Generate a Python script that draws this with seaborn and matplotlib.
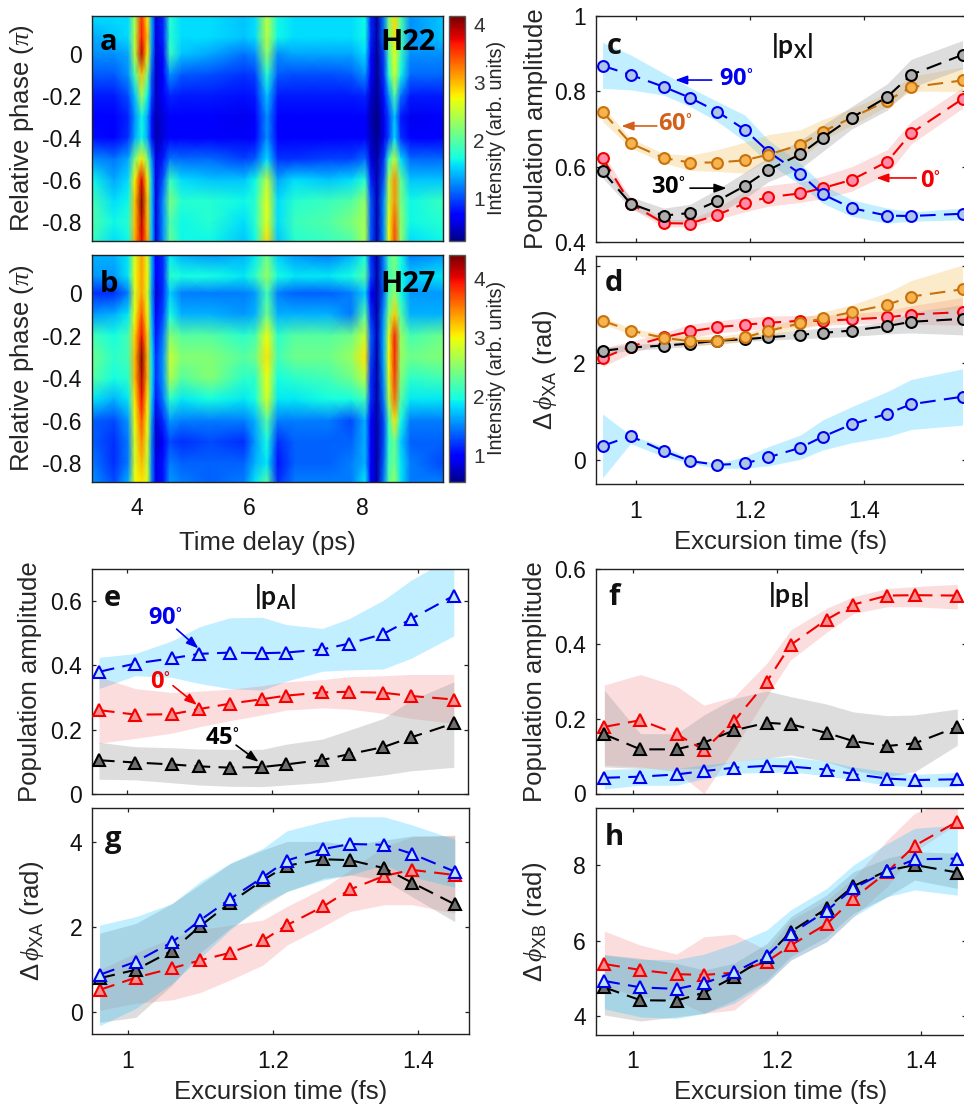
import numpy as np
import matplotlib
matplotlib.use("Agg")
import matplotlib.pyplot as plt
import seaborn as sns

W, H = 964, 1105

# ---------- heat maps ----------
delay = [3.2, 3.6, 3.85, 3.97, 4.09, 4.19, 4.27, 4.34, 4.47, 4.59, 4.8, 5.3, 5.9, 6.1,
         6.31, 6.5, 6.8, 7.4, 7.8, 8.05, 8.15, 8.26, 8.38, 8.47, 8.57, 8.68, 8.85, 9.42]
phase = [.18, .08, 0, -.1, -.2, -.3, -.4, -.5, -.6, -.7, -.8, -.89]
h22 = [
 [1.6,1.6,1.6,2.4,3.6,2.8,1.4,.6,.9,1.8,1.6,1.6,1.5,1.6,2.5,1.7,1.6,1.6,1.6,1.7,.9,.4,1.2,2.2,2.9,2.0,1.3,1.5],
 [1.4,1.5,1.6,2.5,3.7,3.0,1.4,.6,.9,1.8,1.6,1.6,1.5,1.6,2.5,1.7,1.6,1.6,1.6,1.7,.9,.4,1.2,2.2,2.9,2.0,1.3,1.5],
 [1.3,1.3,1.4,2.5,3.9,2.8,1.3,.55,.8,1.9,1.5,1.4,1.2,1.3,2.3,1.3,1.4,1.4,1.4,1.6,.8,.35,1.0,2.0,2.7,1.9,1.3,1.3],
 [1.1,1.1,1.3,2.0,3.0,2.2,1.1,.5,.75,1.3,1.1,1.05,.95,1.0,1.8,1.1,1.05,1.05,1.1,1.3,.7,.35,.95,1.8,2.6,1.7,1.15,1.15],
 [.85,.85,1.05,1.5,2.4,1.7,1.0,.5,.7,.9,.85,.85,.8,.85,1.5,.85,.85,.85,.85,.9,.55,.35,.8,1.3,2.0,1.2,.85,.85],
 [.75,.75,.9,1.3,1.7,1.4,.8,.45,.6,.75,.7,.72,.65,.7,1.3,.7,.7,.7,.72,.72,.45,.3,.65,1.0,1.5,.85,.65,.7],
 [.8,.75,.95,1.4,1.7,1.4,.8,.45,.6,.75,.72,.75,.68,.72,1.3,.7,.7,.72,.7,.75,.5,.32,.65,1.0,1.6,.95,.72,.75],
 [1.3,1.2,1.4,2.2,2.8,2.2,1.3,.6,.85,1.2,1.15,1.15,1.0,1.1,1.6,.95,.95,1.0,1.0,1.15,.6,.4,.95,1.9,2.5,1.6,1.15,1.15],
 [1.7,1.4,1.6,2.8,3.8,2.8,1.5,.6,1.1,1.9,1.6,1.5,1.5,1.7,2.5,1.4,1.6,1.5,1.6,1.8,.9,.45,1.1,2.4,3.2,2.1,1.5,1.5],
 [1.95,1.6,1.7,3.0,4.1,3.0,1.5,.6,1.3,2.2,1.8,1.8,1.7,1.8,2.7,1.6,1.8,1.9,2.0,2.3,1.1,.45,1.3,2.5,3.2,2.2,1.7,1.9],
 [2.0,1.7,1.8,3.0,3.9,3.0,1.5,.6,1.3,2.0,1.7,1.8,1.6,1.8,2.7,1.6,1.9,2.0,2.2,2.4,1.1,.45,1.3,2.7,3.4,2.3,1.7,1.8],
 [1.9,1.6,1.7,3.1,3.8,3.1,1.5,.6,1.3,2.1,1.7,1.7,1.5,1.7,2.9,1.5,1.8,1.9,2.0,2.4,1.1,.45,1.3,2.7,3.5,2.3,1.6,1.7],
]
h27 = [
 [1.7,1.7,1.9,2.9,3.4,2.9,1.7,1.0,1.2,1.9,1.7,1.6,1.7,1.9,2.4,1.8,1.6,1.5,1.7,2.0,1.2,.7,1.5,2.2,2.5,2.0,1.5,1.6],
 [1.6,1.6,1.9,3.0,3.4,3.0,1.7,1.0,1.2,2.1,2.0,2.0,1.9,2.1,2.6,2.0,1.9,1.9,2.0,2.3,1.3,.7,1.5,2.2,2.4,2.0,1.8,1.9],
 [1.2,1.2,1.5,2.9,3.4,2.9,1.6,.85,1.2,1.8,1.5,1.5,1.5,1.6,2.2,1.5,1.4,1.4,1.5,1.8,1.0,.7,1.4,2.2,2.6,2.0,1.6,1.6],
 [1.6,1.7,1.9,3.0,3.7,3.0,1.7,1.0,1.3,2.0,1.7,1.7,1.6,1.7,2.4,1.7,1.7,1.7,1.5,2.3,1.2,.7,1.6,2.5,3.2,2.3,1.7,1.7],
 [2.2,2.0,2.2,3.2,4.0,3.2,1.8,1.1,1.5,2.5,2.3,2.3,2.1,2.2,3.0,2.1,2.3,2.3,2.4,2.8,1.4,.75,1.7,2.9,3.9,2.6,2.2,2.4],
 [2.4,2.1,2.2,3.3,4.35,3.3,1.9,1.2,1.6,2.8,2.5,2.5,2.3,2.4,3.1,2.2,2.4,2.4,2.6,3.1,1.3,.7,1.7,3.0,3.9,2.6,2.4,2.5],
 [2.3,2.0,2.1,3.3,4.2,3.3,1.9,1.2,1.6,2.7,2.3,2.5,2.1,2.1,3.0,2.0,2.1,2.2,2.4,2.75,1.2,.7,1.6,2.9,3.8,2.5,2.1,2.2],
 [1.9,1.7,1.9,3.1,4.0,3.1,1.8,1.1,1.5,2.1,1.9,2.0,1.9,2.0,2.9,1.9,1.9,2.0,2.0,2.2,1.2,.7,1.5,2.7,3.6,2.3,1.9,1.9],
 [1.4,1.3,1.6,3.0,3.7,3.0,1.6,.85,1.2,1.6,1.5,1.5,1.5,1.7,2.3,1.5,1.5,1.5,1.3,1.7,1.0,.7,1.3,2.2,3.1,2.0,1.5,1.5],
 [1.4,1.2,1.5,2.9,3.5,2.9,1.5,.8,1.0,1.3,1.2,1.3,1.2,1.6,2.0,1.2,1.4,1.4,1.4,1.7,1.0,.7,1.3,2.1,2.4,1.8,1.4,1.4],
 [1.5,1.2,1.5,2.9,3.3,2.8,1.5,.9,1.1,1.5,1.4,1.4,1.4,1.7,1.9,1.1,1.4,1.4,1.5,1.7,1.0,.7,1.4,2.2,2.4,1.9,1.5,1.3],
 [1.6,1.3,1.7,3.0,3.1,2.9,1.5,.9,1.1,1.6,1.5,1.4,1.5,1.9,2.3,1.2,1.5,1.5,1.5,1.9,1.0,.7,1.5,2.3,2.6,1.9,1.5,1.5],
]

# ---------- panels c, d ----------
tx = [.942, .991, 1.049, 1.095, 1.143, 1.191, 1.232, 1.288, 1.327, 1.378, 1.440, 1.482, 1.572]
c_blue = [.868,.844,.812,.783,.746,.698,.640,.581,.527,.490,.470,.469,.475]
c_blue_hi = [.93,.897,.848,.81,.773,.737,.671,.609,.552,.512,.49,.48,.49]
c_blue_lo = [.808,.804,.79,.76,.72,.667,.61,.552,.503,.468,.45,.455,.459]
c_orange = [.746,.662,.623,.611,.611,.617,.632,.658,.693,.73,.775,.811,.829]
c_orange_hi = [.76,.675,.635,.63,.645,.665,.685,.698,.725,.755,.795,.84,.865]
c_orange_lo = [.72,.65,.61,.59,.587,.583,.618,.62,.67,.71,.76,.80,.80]
c_black = [.588,.502,.470,.477,.509,.549,.591,.633,.677,.73,.785,.844,.897]
c_black_hi = [.60,.52,.49,.50,.54,.585,.625,.67,.71,.76,.82,.885,.935]
c_black_lo = [.57,.49,.45,.45,.475,.515,.56,.595,.64,.70,.75,.81,.86]
c_red = [.623,.502,.45,.449,.472,.503,.519,.529,.543,.565,.613,.689,.78]
c_red_hi = [.64,.515,.46,.46,.49,.535,.55,.56,.575,.60,.645,.72,.81]
c_red_lo = [.605,.49,.44,.44,.46,.48,.495,.505,.515,.535,.58,.66,.755]

d_blue = [.29,.495,.186,-.02,-.10,-.07,.055,.254,.48,.735,.955,1.15,1.306]
d_blue_hi = [.95,.515,.275,.035,-.07,.07,.275,.515,.825,1.10,1.41,1.66,1.88]
d_blue_lo = [-.365,.34,.07,-.07,-.17,-.17,-.12,.014,.206,.357,.48,.63,.72]
d_orange = [2.87,2.67,2.52,2.45,2.46,2.53,2.66,2.82,2.92,3.05,3.2,3.37,3.52]
d_orange_hi = [2.95,2.72,2.6,2.55,2.55,2.62,2.75,2.92,3.05,3.2,3.45,3.7,4.02]
d_orange_lo = [2.8,2.6,2.45,2.38,2.38,2.44,2.55,2.7,2.8,2.9,3.0,3.08,3.1]
d_red = [2.10,2.34,2.53,2.65,2.74,2.79,2.83,2.87,2.87,2.90,2.94,3.0,3.05]
d_red_hi = [2.3,2.45,2.62,2.8,2.87,2.93,2.97,2.98,2.98,3.02,3.08,3.18,3.35]
d_red_lo = [1.92,2.2,2.42,2.52,2.62,2.67,2.72,2.75,2.78,2.8,2.82,2.8,2.78]
d_black = [2.25,2.32,2.36,2.40,2.46,2.49,2.53,2.58,2.62,2.67,2.76,2.85,2.91]
d_black_hi = [2.32,2.38,2.42,2.46,2.5,2.55,2.6,2.68,2.72,2.75,2.85,3.05,3.2]
d_black_lo = [2.18,2.26,2.3,2.34,2.4,2.45,2.47,2.5,2.52,2.55,2.6,2.62,2.58]

# ---------- panels e, f, g, h ----------
tt = [.961, 1.011, 1.061, 1.099, 1.141, 1.186, 1.219, 1.269, 1.306, 1.353, 1.391, 1.450]
e_blue = [.38,.406,.422,.436,.44,.438,.44,.45,.468,.498,.544,.617]
e_blue_hi = [.425,.437,.476,.52,.548,.55,.527,.515,.546,.603,.665,.74]
e_blue_lo = [.328,.368,.363,.344,.328,.323,.351,.382,.386,.389,.422,.492]
e_red = [.261,.247,.248,.264,.281,.295,.306,.316,.318,.315,.305,.294]
e_red_hi = [.365,.328,.316,.32,.326,.337,.349,.356,.365,.368,.372,.372]
e_red_lo = [.158,.173,.189,.209,.228,.246,.261,.268,.264,.251,.235,.22]
e_black = [.105,.098,.092,.086,.082,.084,.092,.106,.124,.146,.176,.22]
e_black_hi = [.161,.147,.144,.14,.139,.139,.155,.171,.199,.235,.292,.349]
e_black_lo = [.046,.044,.035,.028,.024,.023,.028,.036,.047,.059,.072,.083]

f_red = [.178,.196,.159,.116,.194,.299,.397,.465,.505,.529,.53,.529]
f_red_hi = [.29,.318,.287,.236,.259,.348,.437,.495,.526,.548,.553,.559]
f_red_lo = [.076,.071,.058,0,.12,.259,.357,.431,.481,.499,.499,.493]
f_black = [.158,.118,.118,.136,.169,.189,.185,.162,.14,.127,.134,.178]
f_black_hi = [.276,.16,.16,.21,.254,.274,.259,.239,.218,.208,.21,.226]
f_black_lo = [.071,.067,.067,.067,.085,.094,.103,.085,.062,.045,.058,.129]
f_blue = [.042,.045,.051,.06,.069,.074,.072,.064,.052,.04,.036,.038]
f_blue_hi = [.064,.067,.067,.076,.085,.095,.098,.086,.071,.058,.051,.056]
f_blue_lo = [.012,.022,.022,.04,.054,.056,.058,.047,.036,.022,.018,.018]

g_blue = [.88,1.19,1.65,2.16,2.67,3.18,3.57,3.84,3.96,3.94,3.73,3.31]
g_blue_hi = [2.05,2.25,2.56,3.07,3.51,3.86,4.27,4.49,4.6,4.6,4.41,4.07]
g_blue_lo = [-.32,.09,.68,1.27,1.94,2.56,2.84,3.11,3.23,3.47,3.19,2.94]
g_black = [.8,1.0,1.45,2.02,2.58,3.11,3.45,3.6,3.58,3.39,3.05,2.54]
g_black_hi = [1.86,2.09,2.56,3.0,3.5,3.82,4.02,4.02,3.94,4.05,4.15,4.15]
g_black_lo = [-.24,-.12,.64,1.39,1.98,2.49,2.84,3.15,3.23,3.11,2.72,2.13]
g_red = [.525,.815,1.035,1.22,1.4,1.69,2.05,2.49,2.89,3.21,3.35,3.23]
g_red_hi = [1.0,1.4,1.75,1.95,2.05,2.17,2.49,2.92,3.35,3.9,4.13,4.17]
g_red_lo = [.04,.21,.29,.46,.76,1.11,1.58,2.02,2.37,2.53,2.53,2.33]

h_red = [5.38,5.22,5.11,5.09,5.15,5.44,5.87,6.44,7.11,7.82,8.51,9.15]
h_red_hi = [6.25,5.88,5.64,6.1,6.17,5.75,6.54,7.07,7.65,8.66,9.37,9.8]
h_red_lo = [4.78,4.51,4.42,4.07,4.16,4.87,5.48,5.97,6.63,7.43,8.35,9.1]
h_black = [4.76,4.42,4.41,4.62,5.04,5.57,6.23,6.85,7.44,7.85,8.0,7.8]
h_black_hi = [5.63,5.53,5.4,5.22,5.4,5.92,6.63,7.21,7.82,8.18,8.35,8.31]
h_black_lo = [4.03,3.87,3.98,4.07,4.42,4.95,5.57,6.1,6.72,7.16,7.6,7.38]
h_blue = [4.93,4.76,4.72,4.87,5.16,5.6,6.17,6.79,7.38,7.85,8.15,8.17]
h_blue_hi = [5.62,5.5,5.5,5.64,5.91,6.28,6.81,7.38,8.0,8.57,8.97,9.06]
h_blue_lo = [4.19,3.98,3.94,4.07,4.34,4.88,5.48,5.97,6.63,7.16,7.34,7.2]

# ---------- style ----------
sns.set_theme(style="ticks")
plt.rcParams.update({
    "font.family": ["Liberation Sans", "DejaVu Sans"],
    "mathtext.fontset": "custom",
    "mathtext.rm": "Liberation Sans",
    "mathtext.it": "Liberation Serif:italic",
    "mathtext.bf": "Liberation Sans:bold",
    "mathtext.default": "regular",
    "axes.linewidth": 1.0,
    "axes.edgecolor": "#222222",
    "text.color": "#111111",
    "xtick.color": "#222222",
    "ytick.color": "#222222",
    "xtick.labelcolor": "#111111",
    "ytick.labelcolor": "#111111",
    "xtick.direction": "in",
    "ytick.direction": "in",
    "xtick.top": True,
    "ytick.right": True,
    "xtick.major.size": 3.2,
    "ytick.major.size": 3.2,
    "xtick.major.width": 0.9,
    "ytick.major.width": 0.9,
    "xtick.labelsize": 16.5,
    "ytick.labelsize": 16.5,
    "xtick.major.pad": 11,
    "ytick.major.pad": 7,
})
LAB = 18.5
BOLD = dict(family="Open Sans", weight="bold")
NARROW = dict(family="Lato", weight="bold")
STY = {
    "blue":   dict(c="#0000F0", band="#00BFFF", a=.24, o="#AEC6E6", t="#BFE6F6"),
    "red":    dict(c="#F50000", band="#EE3030", a=.16, o="#FF8CA8", t="#F49090"),
    "black":  dict(c="#000000", band="#A0A0A0", a=.35, o="#AEAEAE", t="#707070"),
    "orange": dict(c="#C8720C", band="#F5B030", a=.25, o="#F7B350", t="#F7B350"),
}
fig = plt.figure(figsize=(W / 100, H / 100), dpi=100)


def place(l, t, r, b):
    return fig.add_axes([l / W, 1 - b / H, (r - l) / W, (b - t) / H])


def series(ax, x, y, lo, hi, name, marker):
    s = STY[name]
    ax.fill_between(x, lo, hi, color=s["band"], alpha=s["a"], linewidth=0, zorder=1)
    face = s["o"] if marker == "o" else s["t"]
    sns.lineplot(x=x, y=y, ax=ax, color=s["c"], linestyle=(0, (7.5, 4)), linewidth=1.5,
                 marker=marker, markersize=7.8 if marker == "o" else 8.8,
                 markerfacecolor=face, markeredgecolor=s["c"], markeredgewidth=1.5,
                 errorbar=None, zorder=3)


def labels(ax, xlabel, ylabel, ypx, l, w, xlab_frac=None):
    ax.set_xlabel(xlabel or "", fontsize=LAB)
    ax.set_ylabel(ylabel, fontsize=LAB)
    ax.yaxis.label.set_va("center")
    ax.yaxis.set_label_coords((ypx - l) / w, .5)
    if xlab_frac is not None:
        ax.xaxis.label.set_va("center")
        ax.xaxis.set_label_coords(.5, xlab_frac)


def arrow(ax, tip, tail, color):
    ax.annotate("", xy=tip, xytext=tail,
                arrowprops=dict(arrowstyle="-|>,head_width=.22,head_length=.6", color=color,
                                lw=1.2, shrinkA=0, shrinkB=0), zorder=6)


def tag(ax, x, y, s, color):
    ax.text(x, y, s + r"$^{\circ}$", color=color, fontsize=17, va="center", ha="left",
            zorder=6, **BOLD)


# ---------- a, b ----------
for grid, top, bot, lim, cb_ticks, letter, hh, ylet, ypos in [
    (h22, 16, 240.5, (.27, 4.14), [1, 2, 3, 4], "a", "H22", .88, .88),
    (h27, 255, 481.7, (.55, 4.39), [1, 2, 3, 4], "b", "H27", .87, .87),
]:
    ax = place(91.5, top, 442.5, bot)
    mesh = ax.pcolormesh(delay, phase, np.array(grid), shading="gouraud", cmap="jet",
                         vmin=lim[0], vmax=lim[1], rasterized=True)
    ax.set_xlim(3.2, 9.42)
    ax.set_ylim(-.888, .18)
    ax.set_xticks([4, 6, 8])
    ax.set_yticks([-.8, -.6, -.4, -.2, 0])
    ax.set_yticklabels(["-0.8", "-0.6", "-0.4", "-0.2", "0"])
    ax.set_ylabel(r"Relative phase ($\mathit{\pi}$)", fontsize=LAB)
    ax.yaxis.label.set_va("center")
    ax.yaxis.set_label_coords((22 - 91.5) / 351, .5)
    ax.text(.05, ylet, letter, transform=ax.transAxes, fontsize=21, ha="center", va="center",
            color="black", **BOLD)
    ax.text(.98, ypos, hh, transform=ax.transAxes, fontsize=21, ha="right", va="center",
            color="black", **BOLD)
    cax = place(448.5, top, 465, bot)
    cax.set_facecolor("#00009A")
    cb = fig.colorbar(mesh, cax=cax)
    cb.solids.set_edgecolor("face")
    cb.set_ticks(cb_ticks)
    cb.ax.tick_params(labelsize=15, direction="in", length=2.5, right=True, left=False,
                      pad=6, color="#555555", labelcolor="#333333")
    cb.outline.set_edgecolor("#555555")
    cb.outline.set_linewidth(1.0)
    cb.set_label("Intensity (arb. units)", fontsize=14.2)
    cb.ax.yaxis.label.set_va("center")
    cb.ax.yaxis.set_label_coords((497 - 448.5) / 16.5, .5)
    if letter == "a":
        ax.set_xticklabels([])
    else:
        ax.set_xlabel("Time delay (ps)", fontsize=LAB)
        ax.xaxis.label.set_va("center")
        ax.xaxis.set_label_coords(.5, -(543 - bot) / (bot - top))

# ---------- c ----------
ax = place(595.7, 16, 966, 242)
for name, y, lo, hi in [("red", c_red, c_red_lo, c_red_hi), ("blue", c_blue, c_blue_lo, c_blue_hi),
                        ("orange", c_orange, c_orange_lo, c_orange_hi),
                        ("black", c_black, c_black_lo, c_black_hi)]:
    series(ax, tx, y, lo, hi, name, "o")
ax.set_xlim(.93, 1.578)
ax.set_ylim(.4, 1)
ax.set_xticks([1, 1.2, 1.4])
ax.set_xticklabels([])
ax.set_yticks([.4, .6, .8, 1])
ax.set_yticklabels(["0.4", "0.6", "0.8", "1"])
labels(ax, "", "Population amplitude", 536, 595.7, 370.3)
ax.text(.05, .863, "c", transform=ax.transAxes, fontsize=21, ha="center", va="center", **BOLD)
ax.text(1.273, .92, "|p$_{X}$|", fontsize=19, ha="center", va="center", **NARROW)
arrow(ax, (1.069, .83), (1.133, .83), "#0000F0")
tag(ax, 1.145, .832, "90", "#0000F0")
arrow(ax, (.975, .708), (1.037, .708), "#D2601A")
tag(ax, 1.0385, .713, "60", "#D2601A")
arrow(ax, (1.421, .57), (1.491, .57), "#F50000")
tag(ax, 1.497, .562, "0", "#F50000")
arrow(ax, (1.159, .543), (1.095, .543), "black")
tag(ax, 1.026, .546, "30", "black")

# ---------- d ----------
ax = place(595.7, 256, 966, 484.3)
for name, y, lo, hi in [("blue", d_blue, d_blue_lo, d_blue_hi), ("red", d_red, d_red_lo, d_red_hi),
                        ("black", d_black, d_black_lo, d_black_hi),
                        ("orange", d_orange, d_orange_lo, d_orange_hi)]:
    series(ax, tx, y, lo, hi, name, "o")
ax.set_xlim(.93, 1.578)
ax.set_ylim(-.50, 4.206)
ax.set_xticks([1, 1.2, 1.4])
ax.set_xticklabels(["1", "1.2", "1.4"])
ax.set_yticks([0, 2, 4])
ax.set_yticklabels(["0", "2", "4"])
labels(ax, "Excursion time (fs)", r"$\Delta\,\mathit{\phi}_{\mathrm{XA}}$ (rad)", 545, 595.7, 370.3,
       -(542 - 484.3) / 228.3)
ax.text(.05, .88, "d", transform=ax.transAxes, fontsize=21, ha="center", va="center", **BOLD)

# ---------- e ----------
ax = place(91.7, 569, 468.3, 794)
for name, y, lo, hi in [("blue", e_blue, e_blue_lo, e_blue_hi), ("red", e_red, e_red_lo, e_red_hi),
                        ("black", e_black, e_black_lo, e_black_hi)]:
    series(ax, tt, y, lo, hi, name, "^")
ax.set_xlim(.951, 1.470)
ax.set_ylim(0, .7)
ax.set_xticks([1, 1.2, 1.4])
ax.set_xticklabels([])
ax.set_yticks([0, .2, .4, .6])
ax.set_yticklabels(["0", "0.2", "0.4", "0.6"])
labels(ax, "", "Population amplitude", 30, 91.7, 376.6)
ax.text(.054, .871, "e", transform=ax.transAxes, fontsize=21, ha="center", va="center", **BOLD)
ax.text(1.204, .613, "|p$_{A}$|", fontsize=19, ha="center", va="center", **NARROW)
arrow(ax, (1.098, .453), (1.068, .513), "#0000F0")
tag(ax, 1.028, .546, "90", "#0000F0")
arrow(ax, (1.096, .277), (1.063, .337), "#F50000")
tag(ax, 1.031, .349, "0", "#F50000")
arrow(ax, (1.181, .10), (1.15, .152), "black")
tag(ax, 1.107, .175, "45", "black")

# ---------- f ----------
ax = place(595.7, 569, 966, 793.5)
for name, y, lo, hi in [("red", f_red, f_red_lo, f_red_hi), ("black", f_black, f_black_lo, f_black_hi),
                        ("blue", f_blue, f_blue_lo, f_blue_hi)]:
    series(ax, tt, y, lo, hi, name, "^")
ax.set_xlim(.949, 1.462)
ax.set_ylim(0, .6)
ax.set_xticks([1, 1.2, 1.4])
ax.set_xticklabels([])
ax.set_yticks([0, .2, .4, .6])
ax.set_yticklabels(["0", "0.2", "0.4", "0.6"])
labels(ax, "", "Population amplitude", 535, 595.7, 370.3)
ax.text(.05, .875, "f", transform=ax.transAxes, fontsize=21, ha="center", va="center", **BOLD)
ax.text(1.217, .53, "|p$_{B}$|", fontsize=19, ha="center", va="center", **NARROW)

# ---------- g ----------
ax = place(92.3, 808.3, 469.3, 1034.3)
for name, y, lo, hi in [("red", g_red, g_red_lo, g_red_hi), ("black", g_black, g_black_lo, g_black_hi),
                        ("blue", g_blue, g_blue_lo, g_blue_hi)]:
    series(ax, tt, y, lo, hi, name, "^")
ax.set_xlim(.951, 1.470)
ax.set_ylim(-.52, 4.8)
ax.set_xticks([1, 1.2, 1.4])
ax.set_xticklabels(["1", "1.2", "1.4"])
ax.set_yticks([0, 2, 4])
ax.set_yticklabels(["0", "2", "4"])
labels(ax, "Excursion time (fs)", r"$\Delta\,\mathit{\phi}_{\mathrm{XA}}$ (rad)", 32, 92.3, 377,
       -(1092 - 1034.3) / 226)
ax.text(.054, .863, "g", transform=ax.transAxes, fontsize=21, ha="center", va="center", **BOLD)

# ---------- h ----------
ax = place(595.7, 808.3, 966, 1035)
for name, y, lo, hi in [("red", h_red, h_red_lo, h_red_hi), ("black", h_black, h_black_lo, h_black_hi),
                        ("blue", h_blue, h_blue_lo, h_blue_hi)]:
    series(ax, tt, y, lo, hi, name, "^")
ax.set_xlim(.949, 1.462)
ax.set_ylim(3.5, 9.5)
ax.set_xticks([1, 1.2, 1.4])
ax.set_xticklabels(["1", "1.2", "1.4"])
ax.set_yticks([4, 6, 8])
ax.set_yticklabels(["4", "6", "8"])
labels(ax, "Excursion time (fs)", r"$\Delta\,\mathit{\phi}_{\mathrm{XB}}$ (rad)", 535, 595.7, 370.3,
       -(1092 - 1035) / 226.7)
ax.text(.05, .873, "h", transform=ax.transAxes, fontsize=21, ha="center", va="center", **BOLD)

fig.savefig("out.png", dpi=100, facecolor="white")
